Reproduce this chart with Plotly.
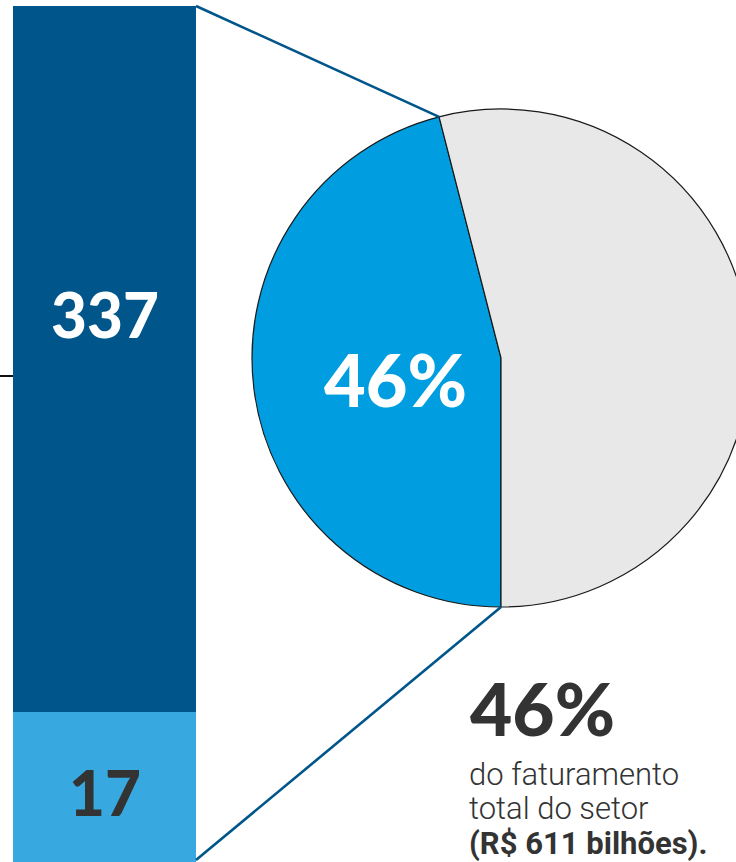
import math
import plotly.graph_objects as go

# ---- data ----
bar_labels = ["337", "17"]
bar_values = [337, 17]
pie_labels = ["Participação", "Restante"]
pie_values = [46, 54]
caption_lines = ["do faturamento", "total do setor", "(R$ 611 bilhões)."]

DARK = "#00568A"
LIGHT = "#38A8E0"
PIE_BLUE = "#009EE0"
PIE_GRAY = "#E8E8E8"
TEXT_DARK = "#333333"

W, H = 760, 862          # a bit wider than the window so the pie can run off the edge
NUM_FONT = "Lato"
CAP_FONT = "Roboto"


def px(x):
    return x / W


def py(y):
    return 1 - y / H


fig = go.Figure()

# stacked (not-to-scale) bar: two subplots, each filled by its own bar
bar_x = [px(13), px(196)]
split = py(712)
fig.add_trace(go.Bar(x=[0], y=[bar_values[0]], marker=dict(color=DARK, line=dict(width=0)),
                     width=1, xaxis="x", yaxis="y", hoverinfo="skip", showlegend=False))
fig.add_trace(go.Bar(x=[0], y=[bar_values[1]], marker=dict(color=LIGHT, line=dict(width=0)),
                     width=1, xaxis="x2", yaxis="y2", hoverinfo="skip", showlegend=False))

# pie
cx_px, cy_px, r_px = 501, 358, 249
pie_x = [px(cx_px - r_px), px(cx_px + r_px)]
pie_y = [py(cy_px + r_px + 8), py(cy_px - r_px - 8)]
fig.add_trace(go.Pie(labels=pie_labels, values=pie_values, sort=False,
                     direction="clockwise", rotation=180,
                     marker=dict(colors=[PIE_BLUE, PIE_GRAY], line=dict(color="#1a1a1a", width=1.2)),
                     textinfo="none", hoverinfo="skip", showlegend=False,
                     domain=dict(x=pie_x, y=pie_y)))

axis_common = dict(visible=False, fixedrange=True)
fig.update_layout(
    width=W, height=H,
    margin=dict(l=0, r=0, t=0, b=0),
    paper_bgcolor="white", plot_bgcolor="rgba(0,0,0,0)",
    bargap=0,
    xaxis=dict(domain=bar_x, range=[-0.5, 0.5], **axis_common),
    yaxis=dict(domain=[split, py(6)], range=[0, bar_values[0]], **axis_common),
    xaxis2=dict(domain=bar_x, range=[-0.5, 0.5], anchor="y2", **axis_common),
    yaxis2=dict(domain=[0, split], range=[0, bar_values[1]], anchor="x2", **axis_common),
)

# connector lines from bar corners to the slice edges
share = pie_values[0] / sum(pie_values)
theta = math.radians(180 + share * 360)  # clockwise from 12 o'clock
top_pt = (cx_px + r_px * math.sin(theta), cy_px - r_px * math.cos(theta))
bot_pt = (cx_px, cy_px + r_px)
for (x0, y0), (x1, y1) in [((196, 6), top_pt), ((196, 860), bot_pt)]:
    fig.add_shape(type="line", xref="paper", yref="paper",
                  x0=px(x0), y0=py(y0), x1=px(x1), y1=py(y1),
                  line=dict(color=DARK, width=2.6))
# small tick line at left
fig.add_shape(type="line", xref="paper", yref="paper",
              x0=0, x1=px(13), y0=py(376), y1=py(376),
              line=dict(color="#111111", width=2))

# bar labels
fig.add_annotation(x=0, y=bar_values[0] * (1 - (314 - 6) / (712 - 6)), xref="x", yref="y",
                   text=bar_labels[0], showarrow=False, xanchor="center", yanchor="middle",
                   font=dict(family=NUM_FONT, size=62, color="white", weight=900))
fig.add_annotation(x=0, y=bar_values[1] * (1 - (792 - 712) / (H - 712)), xref="x2", yref="y2",
                   text=bar_labels[1], showarrow=False, xanchor="center", yanchor="middle",
                   font=dict(family=NUM_FONT, size=62, color=TEXT_DARK, weight=900))

pct = f"{pie_values[0]}%"
fig.add_annotation(x=px(395), y=py(379), xref="paper", yref="paper", text=pct,
                   showarrow=False, xanchor="center", yanchor="middle",
                   font=dict(family=NUM_FONT, size=72, color="white", weight=900))
fig.add_annotation(x=px(542), y=py(708), xref="paper", yref="paper", text=pct,
                   showarrow=False, xanchor="center", yanchor="middle",
                   font=dict(family=NUM_FONT, size=73, color=TEXT_DARK, weight=900))

for i, (line, base, size) in enumerate(zip(caption_lines, [785, 819, 854], [31, 31, 31])):
    fig.add_annotation(x=px(467), y=py(base - 0.33 * size), xref="paper", yref="paper",
                       text=line, showarrow=False, xanchor="left", yanchor="middle",
                       font=dict(family=CAP_FONT, size=size, color=TEXT_DARK,
                                 weight=700 if i == 2 else 300))

fig.write_html("out.html", config={"displayModeBar": False, "staticPlot": True},
               post_script="document.body.style.margin='0px';")
